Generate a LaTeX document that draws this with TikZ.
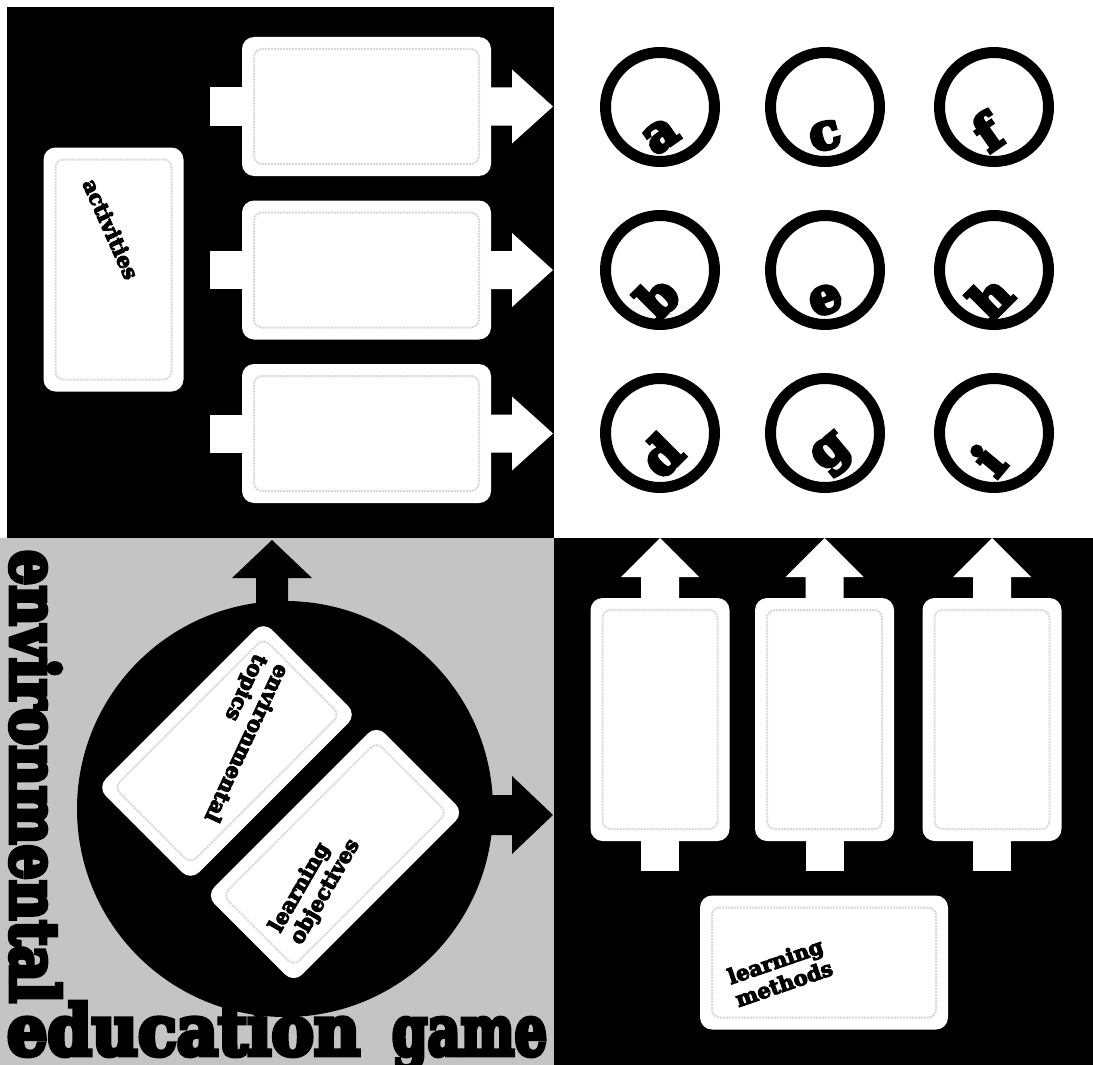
\documentclass[tikz,border=0pt]{standalone}
\usepackage{graphicx}
\usepackage{fontspec}
\usetikzlibrary{calc}
\newfontfamily\heavy{DejaVu Serif Bold}[FakeBold=5]
\newfontfamily\heavier{DejaVu Serif Bold}[FakeBold=7]
\definecolor{halftone}{gray}{0.77}
\begin{document}
\begin{tikzpicture}[x=1pt,y=-1pt,
  card/.style={fill=white, rounded corners=12pt, inner sep=0pt, outer sep=0pt},
  tlcard/.style={card, minimum width=249pt, minimum height=139pt},
  vcard/.style={card, minimum width=139pt, minimum height=243pt},
  frame/.style={draw=black!15, line width=2pt, densely dotted, rounded corners=8pt, inner sep=0pt},
  ring/.style={draw=black, line width=11pt, circle, minimum size=109pt, inner sep=0pt},
  ltr/.style={font=\heavier\fontsize{50}{50}\selectfont, inner sep=0pt},
  lbl/.style={font=\heavy\fontsize{21}{24}\selectfont, align=left, inner sep=0pt},
  big/.style={inner sep=0pt, outer sep=0pt, anchor=base west},
]
\useasboundingbox (0,0) rectangle (1093,1065);
% quadrants
\fill[white] (0,0) rectangle (1093,1065);
\fill[black] (7,7) rectangle (554,538);
\fill[halftone] (0,538) rectangle (554,1065);
\fill[black] (554,538) rectangle (1093,1065);

% ---------- top left: activities ----------
\node[card, minimum width=140pt, minimum height=244pt] (act) at (113.5,269.5) {};
\node[frame, minimum width=116pt, minimum height=220pt] (actf) at (act.center) {};
\node[lbl, rotate=-66] (actlbl) at (111,229) {activities};
\foreach \r/\yy in {1/106.5, 2/270, 3/433.5} {
  \node[tlcard] (row\r) at (366.5,\yy) {};
  \fill[white] ($(row\r.west)+(-32,-19)$) rectangle ($(row\r.west)+(10,19)$);
  \fill[white] ($(row\r.east)+(-10,-19)$) -- ++(31,0) -- ++(0,-18) -- ++(41,37)
     -- ++(-41,37) -- ++(0,-18) -- ++(-31,0) -- cycle;
  \node[frame, minimum width=225pt, minimum height=115pt] (row\r f) at (row\r.center) {};
}

% ---------- top right: lettered circles ----------
\foreach \n/\cx/\cy/\L/\ang/\lx/\ly in {
  ca/660/107/a/35/661/136, cc/825/107/c/15/825/136, cf/994/107/f/35/987/132,
  cb/660/270/b/45/657/297, ce/825/270/e/20/825.5/300, ch/994/270/h/45/990/297,
  cd/660/433/d/45/661/455, cg/825/433/g/40/833/455, ci/994/433/i/50/988/460} {
  \node[ring] (\n) at (\cx,\cy) {};
  \node[ltr, rotate=\ang] (\n l) at (\lx,\ly) {\L};
}

% ---------- bottom right: learning methods ----------
\foreach \c/\xx in {1/660, 2/824.5, 3/992} {
  \node[vcard] (col\c) at (\xx,719.5) {};
  \fill[white] ($(col\c.south)+(-19,-10)$) rectangle ($(col\c.south)+(19,30)$);
  \fill[white] ($(col\c.north)+(-19,10)$) -- ++(0,-31) -- ++(-20,0) -- ++(39,-39)
     -- ++(39,39) -- ++(-20,0) -- ++(0,31) -- cycle;
  \node[frame, minimum width=115pt, minimum height=219pt] (col\c f) at (col\c.center) {};
}
\node[card, minimum width=248pt, minimum height=134pt] (meth) at (824,962.5) {};
\node[frame, minimum width=224pt, minimum height=110pt] (methf) at (meth.center) {};
\node[lbl, rotate=19] (methlbl) at (780,972) {learning\\methods};

% ---------- bottom left: the wheel ----------
\coordinate (upTip) at (272,540);
\coordinate (rightTip) at (553,815);
\fill[black] ($(upTip)+(-16,160)$) -- ++(0,-122) -- ++(-24,0) -- ++(40,-38)
   -- ++(40,38) -- ++(-24,0) -- ++(0,122) -- cycle;
\fill[black] ($(rightTip)+(-150,-20)$) -- ++(109,0) -- ++(0,-19) -- ++(41,39)
   -- ++(-41,39) -- ++(0,-19) -- ++(-109,0) -- cycle;
\node[circle, fill=black, minimum size=416pt, inner sep=0pt] (wheel) at (285,809) {};
\node[card, rotate=45, minimum width=235pt, minimum height=132pt] (topics) at (227,751) {};
\node[frame, rotate=45, minimum width=211pt, minimum height=108pt] (topicsf) at (topics.center) {};
\node[card, rotate=45, minimum width=241pt, minimum height=124pt] (objs) at (335,854) {};
\node[frame, rotate=45, minimum width=217pt, minimum height=100pt] (objsf) at (objs.center) {};
\node[lbl, rotate=-115] (topicslbl) at (235,738) {environmental\\topics};
\node[lbl, rotate=60] (objslbl) at (315,886) {learning\\objectives};

% ---------- title ----------
\node[big, rotate=-90] (envw) at (11,550) {\resizebox{453pt}{50pt}{\heavier environmental}};
\node[big] (edu) at (7,1055) {\resizebox{353pt}{53pt}{\heavier education}};
\node[big] (game) at (392,1055) {\resizebox{155pt}{37pt}{\heavier game}};
\end{tikzpicture}
\end{document}
